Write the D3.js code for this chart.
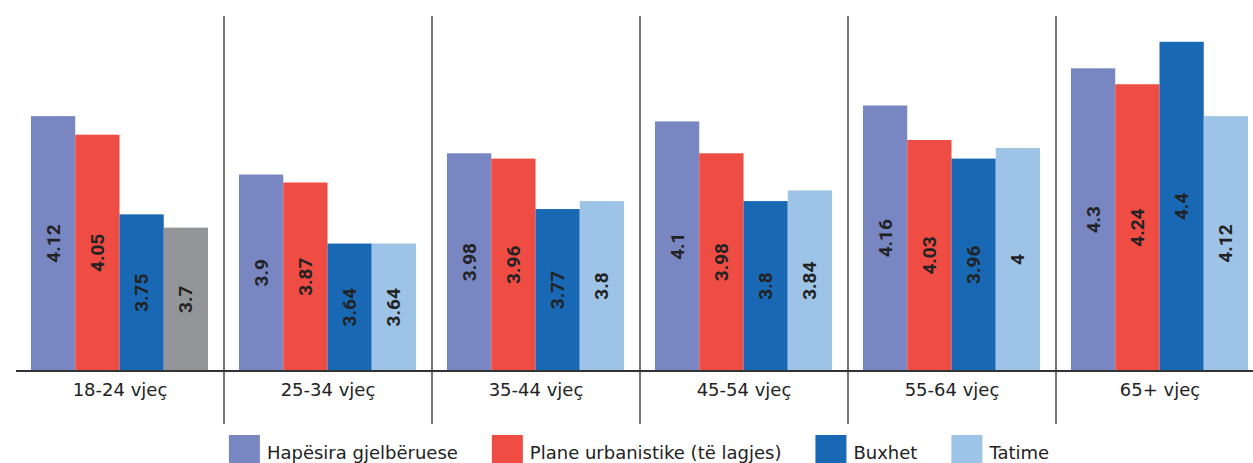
<!DOCTYPE html>
<html>
<head>
<meta charset="utf-8">
<script src="https://cdn.jsdelivr.net/npm/d3@7"></script>
<style>
  html, body { margin: 0; padding: 0; background: #fff; }
  svg { display: block; }
</style>
</head>
<body>
<svg id="chart" width="1253" height="463"></svg>
<script>
// ---- data ----
const categories = ["18-24 vjeç", "25-34 vjeç", "35-44 vjeç", "45-54 vjeç", "55-64 vjeç", "65+ vjeç"];
const seriesNames = ["Hapësira gjelbëruese", "Plane urbanistike (të lagjes)", "Buxhet", "Tatime"];
const hapesira = [4.12, 3.9, 3.98, 4.1, 4.16, 4.3];
const plane    = [4.05, 3.87, 3.96, 3.98, 4.03, 4.24];
const buxhet   = [3.75, 3.64, 3.77, 3.8, 3.96, 4.4];
const tatime   = [3.7, 3.64, 3.8, 3.84, 4, 4.12];
const yDomain  = [3.16, 4.4];

// ---- styles ----
const colors = ["#7886C2", "#EF4C44", "#1868B3", "#9DC3E6"];
const greyColor = "#939598";
const textColor = "#222222";
const labelFont = "'DejaVu Sans', 'Noto Sans', sans-serif";
const valueFont = "Roboto, 'Noto Sans', sans-serif";

const series = [hapesira, plane, buxhet, tatime];
const rows = [];
categories.forEach((c, ci) => {
  series.forEach((s, si) => rows.push({ cat: c, ci, si, name: seriesNames[si], value: s[ci] }));
});

const svg = d3.select("#chart");
const W = 1253;
const left = 16, groupW = 208, baseY = 371;

const x0 = d3.scaleBand().domain(categories).range([left, left + groupW * categories.length]).paddingInner(0).paddingOuter(0);
const x1 = d3.scaleBand().domain(d3.range(seriesNames.length)).range([15, 192]).padding(0);
const y = d3.scaleLinear().domain(yDomain).range([baseY, baseY - (yDomain[1] - yDomain[0]) * 265.5]);

// bars
const g = svg.append("g");
g.selectAll("rect.bar").data(rows).join("rect")
  .attr("class", "bar")
  .attr("x", d => x0(d.cat) + x1(d.si))
  .attr("y", d => y(d.value))
  .attr("width", x1.bandwidth())
  .attr("height", d => y(yDomain[0]) - y(d.value))
  .attr("fill", d => (d.ci === 0 && d.si === 3) ? greyColor : colors[d.si]);

// value labels (rotated, centered in bar)
g.selectAll("text.val").data(rows).join("text")
  .attr("class", "val")
  .attr("transform", d => {
    const cx = x0(d.cat) + x1(d.si) + x1.bandwidth() / 2;
    const cy = (y(d.value) + y(yDomain[0])) / 2;
    return `translate(${cx},${cy}) rotate(-90)`;
  })
  .attr("text-anchor", "middle")
  .attr("dominant-baseline", "central")
  .style("font-family", valueFont)
  .style("font-size", "19px")
  .style("font-weight", 700)
  .attr("fill", textColor)
  .text(d => String(d.value));

// group dividers
svg.append("g").selectAll("line").data(categories.slice(1)).join("line")
  .attr("x1", d => x0(d)).attr("x2", d => x0(d))
  .attr("y1", 16).attr("y2", 424)
  .attr("stroke", "#555").attr("stroke-width", 1.6);

// baseline axis
const xAxis = d3.axisBottom(x0).tickSize(0).tickPadding(12);
const ax = svg.append("g").attr("transform", `translate(0,${baseY})`).call(xAxis);
ax.select(".domain").remove();
ax.selectAll("text").style("font-size", "18px").attr("fill", textColor)
  .style("font-family", labelFont);
svg.append("line").attr("x1", left).attr("x2", W).attr("y1", baseY).attr("y2", baseY)
  .attr("stroke", "#333").attr("stroke-width", 2);

// legend
const leg = svg.append("g");
const items = leg.selectAll("g").data(seriesNames).join("g");
items.append("rect").attr("width", 31).attr("height", 30).attr("y", 435)
  .attr("fill", (d, i) => colors[i]);
items.append("text").attr("x", 38).attr("y", 459).style("font-size", "18px")
  .style("font-family", labelFont).attr("fill", textColor).text(d => d);
let xpos = 0;
const widths = [];
items.each(function () {
  const tw = this.querySelector("text").getComputedTextLength();
  widths.push(38 + tw);
});
const gap = 34;
const total = d3.sum(widths) + gap * (widths.length - 1);
xpos = 639 - total / 2;
items.attr("transform", (d, i) => {
  const t = `translate(${xpos},0)`;
  xpos += widths[i] + gap;
  return t;
});
</script>
</body>
</html>
